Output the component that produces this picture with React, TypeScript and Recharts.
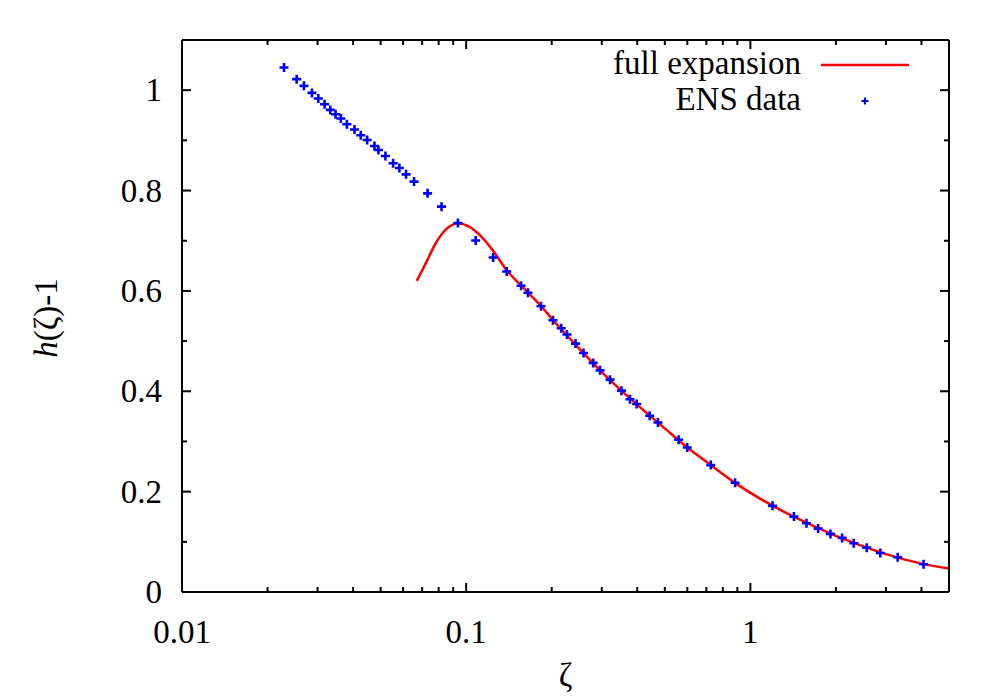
import React from 'react';
import { ComposedChart, Line, Scatter, XAxis, YAxis, Legend } from 'recharts';

const FONT = '"Liberation Serif", "Times New Roman", Times, serif';
const FS = 33;

// ENS data (zeta, h(zeta)-1)
const ensX = [
  0.02285, 0.02532, 0.02686, 0.02866, 0.03017, 0.03175, 0.03325, 0.0347, 0.03622, 0.03802,
  0.04046, 0.04257, 0.04482, 0.04755, 0.04911, 0.05197, 0.05532, 0.0582, 0.06144, 0.06555,
  0.07315, 0.0819, 0.09352, 0.108, 0.1244, 0.1389, 0.156, 0.165, 0.1833, 0.202,
  0.216, 0.2262, 0.2426, 0.2588, 0.2798, 0.2959, 0.3208, 0.3518, 0.3771, 0.3981,
  0.4422, 0.4729, 0.559, 0.5996, 0.7255, 0.8837, 1.197, 1.423, 1.576, 1.732,
  1.913, 2.103, 2.311, 2.567, 2.866, 3.298, 4.069,
];
const ensY = [
  1.0453, 1.022, 1.0086, 0.9946, 0.9834, 0.9721, 0.9607, 0.9521, 0.9435, 0.9321,
  0.9216, 0.9102, 0.9008, 0.8888, 0.8808, 0.8689, 0.8543, 0.8449, 0.8323, 0.8178,
  0.7944, 0.7679, 0.7351, 0.7006, 0.6667, 0.6387, 0.6102, 0.5962, 0.5695, 0.5415,
  0.5255, 0.513, 0.495, 0.4764, 0.4565, 0.4417, 0.4232, 0.4012, 0.3842, 0.3746,
  0.3513, 0.3379, 0.3034, 0.288, 0.2529, 0.2176, 0.1717, 0.1503, 0.1371, 0.1263,
  0.1158, 0.1078, 0.0972, 0.0884, 0.0778, 0.0693, 0.0553,
];

// full expansion curve
const fitX = [
  0.067, 0.0722, 0.0783, 0.0849, 0.0935, 0.1024, 0.1126, 0.1247, 0.1389, 0.156,
  0.165, 0.1833, 0.202, 0.25, 0.3, 0.4, 0.5, 0.6, 0.7, 0.88,
  1.2, 1.5, 2.0, 2.5, 3.0, 4.0, 5.0,
];
const fitY = [
  0.62, 0.656, 0.696, 0.7226, 0.735, 0.728, 0.709, 0.679, 0.641, 0.611,
  0.597, 0.57, 0.542, 0.485, 0.438, 0.373, 0.326, 0.288, 0.2595, 0.218,
  0.1715, 0.1435, 0.112, 0.091, 0.0755, 0.0566, 0.0468,
];

const legendOrder = ['full expansion', 'ENS data'];

const xMajorTicks = [0.01, 0.1, 1];
const xTickLabels = ['0.01', '0.1', '1'];
const xMinorTicks = [
  0.02, 0.03, 0.04, 0.05, 0.06, 0.07, 0.08, 0.09,
  0.2, 0.3, 0.4, 0.5, 0.6, 0.7, 0.8, 0.9,
  2, 3, 4,
];
const yMajorTicks = [0, 0.2, 0.4, 0.6, 0.8, 1];
const yTickLabels = ['0', '0.2', '0.4', '0.6', '0.8', '1'];
const yMinorTicks = [0.1, 0.3, 0.5, 0.7, 0.9];

const xTicks = [...xMajorTicks, ...xMinorTicks].sort((a, b) => a - b);
const yTicks = [...yMajorTicks, ...yMinorTicks].sort((a, b) => a - b);

const ensData = ensX.map((x, i) => ({ x, y: ensY[i] }));
const fitData = fitX.map((x, i) => ({ x, y: fitY[i] }));

const MAJOR = 9;
const MINOR = 5;

function makeTick(side: 'bottom' | 'top' | 'left' | 'right', majors: number[], labels: string[] | null) {
  return (props: any) => {
    const { x, y, payload } = props;
    const idx = majors.findIndex((m) => Math.abs(m - payload.value) < 1e-12);
    const len = idx >= 0 ? MAJOR : MINOR;
    let x2 = x, y2 = y;
    if (side === 'bottom') y2 = y - len;
    if (side === 'top') y2 = y + len;
    if (side === 'left') x2 = x + len;
    if (side === 'right') x2 = x - len;
    let label = null;
    if (labels && idx >= 0) {
      if (side === 'bottom') {
        label = (
          <text x={x} y={y + 51} textAnchor="middle" fontFamily={FONT} fontSize={FS} fill="#000">
            {labels[idx]}
          </text>
        );
      } else if (side === 'left') {
        label = (
          <text x={x - 20} y={y + 11} textAnchor="end" fontFamily={FONT} fontSize={FS} fill="#000">
            {labels[idx]}
          </text>
        );
      }
    }
    return (
      <g>
        <line x1={x} y1={y} x2={x2} y2={y2} stroke="#000" strokeWidth={2} />
        {label}
      </g>
    );
  };
}

const PlusShape = (props: any) => {
  const { cx, cy } = props;
  const a = 4.5;
  return (
    <path
      d={`M${cx - a},${cy}H${cx + a}M${cx},${cy - a}V${cy + a}`}
      stroke="#0000ff"
      strokeWidth={2.6}
      fill="none"
    />
  );
};

const renderLegend = (props: any) => {
  const payload = [...(props.payload || [])].sort(
    (a: any, b: any) => legendOrder.indexOf(a.value) - legendOrder.indexOf(b.value)
  );
  return (
    <svg width={1000} height={130} style={{ position: 'absolute', left: 0, top: 0, overflow: 'visible' }}>
      {payload.map((p: any, i: number) => {
        const by = 74 + 36 * i;
        const my = 65 + 36 * i;
        return (
          <g key={i}>
            <text x={801} y={by} textAnchor="end" fontFamily={FONT} fontSize={FS} fill="#000">
              {p.value}
            </text>
            {p.type === 'line' ? (
              <line x1={821} x2={909} y1={my} y2={my} stroke="#ff0000" strokeWidth={2.5} />
            ) : (
              <path
                d={`M${865 - 3.5},${my}H${865 + 3.5}M${865},${my - 3.5}V${my + 3.5}`}
                stroke="#0000ff"
                strokeWidth={2.2}
              />
            )}
          </g>
        );
      })}
    </svg>
  );
};

const renderXLabel = (props: any) => {
  const vb = props.viewBox || {};
  return (
    <text x={vb.x + vb.width / 2} y={vb.y + 94} textAnchor="middle" fontFamily={FONT} fontSize={FS} fill="#000">
      ζ
    </text>
  );
};

const renderYLabel = (props: any) => {
  const vb = props.viewBox || {};
  const cx = vb.x + 57;
  const cy = vb.y + vb.height / 2 + 2;
  return (
    <text
      x={cx}
      y={cy}
      transform={`rotate(-90, ${cx}, ${cy})`}
      textAnchor="middle"
      fontFamily={FONT}
      fontSize={FS}
      fill="#000"
    >
      <tspan fontStyle="italic">h</tspan>
      <tspan>(ζ)-1</tspan>
    </text>
  );
};

export default function App() {
  return (
    <div style={{ position: 'absolute', left: 0, top: 0, width: 1000, height: 700, background: '#fff' }}>
      <ComposedChart width={1000} height={700} margin={{ top: 10, right: 21, bottom: 8, left: 0 }}>
        <XAxis
          xAxisId="b"
          dataKey="x"
          type="number"
          scale="log"
          domain={[0.01, 5]}
          allowDataOverflow
          ticks={xTicks}
          interval={0}
          height={100}
          tickSize={0}
          tickMargin={0}
          tickLine={false}
          axisLine={{ stroke: '#000', strokeWidth: 2 }}
          tick={makeTick('bottom', xMajorTicks, xTickLabels)}
          label={{ content: renderXLabel }}
        />
        <XAxis
          xAxisId="t"
          orientation="top"
          dataKey="x"
          type="number"
          scale="log"
          domain={[0.01, 5]}
          allowDataOverflow
          ticks={xTicks}
          interval={0}
          height={30}
          tickSize={0}
          tickMargin={0}
          tickLine={false}
          axisLine={{ stroke: '#000', strokeWidth: 2 }}
          tick={makeTick('top', xMajorTicks, null)}
        />
        <YAxis
          yAxisId="l"
          type="number"
          domain={[0, 1.1]}
          allowDataOverflow
          ticks={yTicks}
          interval={0}
          width={182}
          tickSize={0}
          tickMargin={0}
          tickLine={false}
          axisLine={{ stroke: '#000', strokeWidth: 2 }}
          tick={makeTick('left', yMajorTicks, yTickLabels)}
          label={{ content: renderYLabel }}
        />
        <YAxis
          yAxisId="r"
          orientation="right"
          type="number"
          domain={[0, 1.1]}
          allowDataOverflow
          ticks={yTicks}
          interval={0}
          width={30}
          tickSize={0}
          tickMargin={0}
          tickLine={false}
          axisLine={{ stroke: '#000', strokeWidth: 2 }}
          tick={makeTick('right', yMajorTicks, null)}
        />
        <Legend
          layout="horizontal"
          verticalAlign="middle"
          align="center"
          wrapperStyle={{ position: 'absolute', left: 0, top: 0, width: 1000, height: 130 }}
          content={renderLegend}
        />
        <Line
          xAxisId="b"
          yAxisId="l"
          data={fitData}
          dataKey="y"
          name="full expansion"
          type="monotone"
          stroke="#ff0000"
          strokeWidth={2.5}
          dot={false}
          legendType="line"
          isAnimationActive={false}
        />
        <Scatter
          xAxisId="b"
          yAxisId="l"
          data={ensData}
          dataKey="y"
          name="ENS data"
          shape={PlusShape}
          legendType="cross"
          isAnimationActive={false}
        />
      </ComposedChart>
    </div>
  );
}
